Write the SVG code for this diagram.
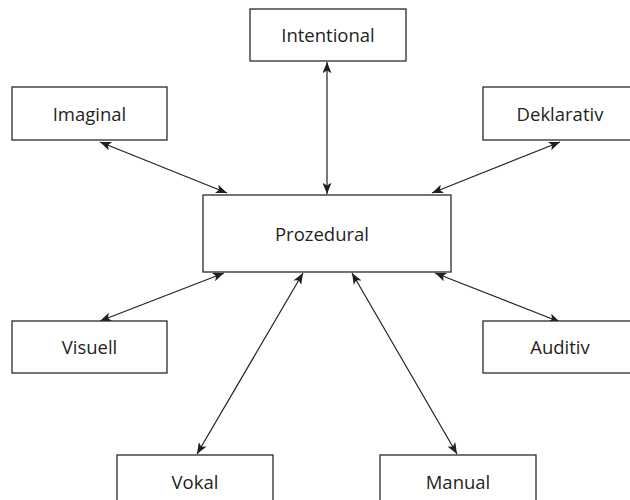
<svg xmlns="http://www.w3.org/2000/svg" width="630" height="500" viewBox="0 0 630 500">
<style>
.box{fill:#fff;stroke:#2a2a2a;stroke-width:1.3}
.lbl{font-family:"Open Sans","Noto Sans",sans-serif;font-size:18.5px;fill:#231f20;text-anchor:middle}
.con{stroke:#231f20;stroke-width:1.2;fill:none;marker-start:url(#ah);marker-end:url(#ah)}
</style>
<defs>
<marker id="ah" viewBox="0 0 10 8" refX="10" refY="4" markerWidth="12" markerHeight="9" markerUnits="userSpaceOnUse" orient="auto-start-reverse">
<path d="M0,0 L10,4 L0,8 L2.5,4 Z" fill="#231f20"/>
</marker>
</defs>
<rect width="630" height="500" fill="#fff"/>
<g id="connectors">
<line class="con" x1="327" y1="62" x2="327" y2="194"/>
<line class="con" x1="100" y1="142" x2="227" y2="193"/>
<line class="con" x1="560" y1="142" x2="432" y2="193"/>
<line class="con" x1="100" y1="321" x2="224" y2="273"/>
<line class="con" x1="560" y1="322" x2="435" y2="273"/>
<line class="con" x1="197" y1="454" x2="303" y2="273"/>
<line class="con" x1="457" y1="454" x2="352" y2="273"/>
</g>
<g id="intentional"><rect class="box" x="250" y="9" width="156" height="52"/><text class="lbl" x="328" y="42">Intentional</text></g>
<g id="imaginal"><rect class="box" x="12" y="87" width="155" height="53"/><text class="lbl" x="89.5" y="121">Imaginal</text></g>
<g id="deklarativ"><rect class="box" x="483" y="87" width="156" height="53"/><text class="lbl" x="560" y="121">Deklarativ</text></g>
<g id="prozedural"><rect class="box" x="203" y="195" width="248" height="77"/><text class="lbl" x="322" y="241">Prozedural</text></g>
<g id="visuell"><rect class="box" x="12" y="321" width="155" height="52"/><text class="lbl" x="89.5" y="354">Visuell</text></g>
<g id="auditiv"><rect class="box" x="483" y="321" width="156" height="52"/><text class="lbl" x="560" y="354">Auditiv</text></g>
<g id="vokal"><rect class="box" x="117" y="455" width="156" height="55"/><text class="lbl" x="195" y="489">Vokal</text></g>
<g id="manual"><rect class="box" x="380" y="455" width="156" height="55"/><text class="lbl" x="458" y="489">Manual</text></g>
</svg>
